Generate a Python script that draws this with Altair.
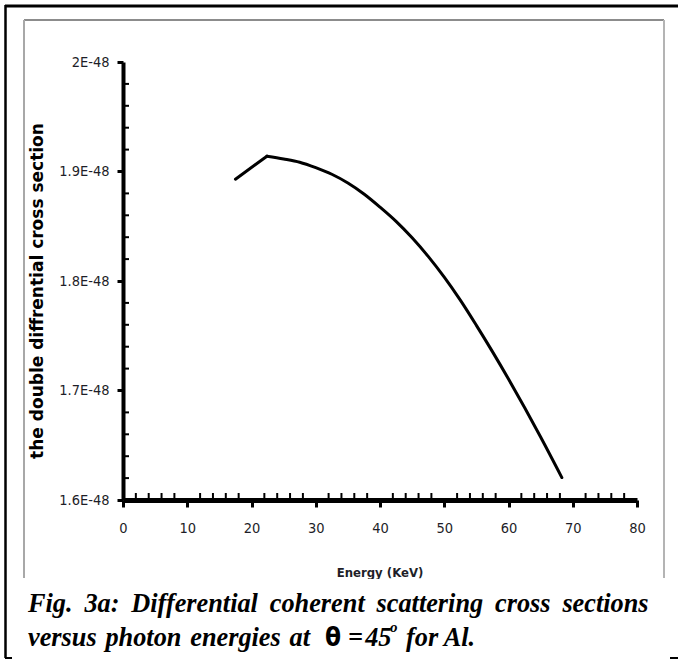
import altair as alt
import pandas as pd

# ---- data ----
energy = [17.5, 22.4, 25, 27.5, 30, 32.5, 35, 37.5, 40, 42.5, 45, 47.5,
          50, 52.5, 55, 57.5, 60, 62.5, 65, 68.3]
sigma = [1.893e-48, 1.914e-48, 1.9115e-48, 1.9085e-48, 1.9035e-48, 1.8975e-48,
         1.8895e-48, 1.8795e-48, 1.8675e-48, 1.8545e-48, 1.8395e-48, 1.8225e-48,
         1.8035e-48, 1.7825e-48, 1.7595e-48, 1.7355e-48, 1.7105e-48, 1.6845e-48,
         1.6575e-48, 1.6205e-48]
segment = ["rise", "rise"] + ["fall"] * 18

x_major = [0, 10, 20, 30, 40, 50, 60, 70, 80]
x_minor = [2, 4, 6, 8, 12, 14, 16, 18, 22, 24, 26, 28, 32, 34, 36, 38,
           42, 44, 46, 48, 52, 54, 56, 58, 62, 64, 66, 68, 72, 74, 76, 78]
y_major = [1.6e-48, 1.7e-48, 1.8e-48, 1.9e-48, 2.0e-48]
y_minor = [1.62e-48, 1.64e-48, 1.66e-48, 1.68e-48, 1.72e-48, 1.74e-48,
           1.76e-48, 1.78e-48, 1.82e-48, 1.84e-48, 1.86e-48, 1.88e-48,
           1.92e-48, 1.94e-48, 1.96e-48, 1.98e-48]

x_title = "Energy (KeV)"
y_title = "the double diffrential cross section"
G = " \u2009"  # slightly widened word gap (justified caption line)
caption1 = G.join(["Fig.", "3a:", "Differential", "coherent", "scattering",
                   "cross", "sections"])
caption2a = " \u200a".join(["versus", "photon", "energies", "at"])
caption2_theta = "\u03b8"
caption2_eq = "=\u200a45"
caption2_sup = "o"
caption2_end = "for Al."

W, H = 514, 438
SANS = "DejaVu Sans Condensed, Liberation Sans, sans-serif"

df = pd.DataFrame({"energy": energy, "sigma": sigma, "segment": segment})
one = pd.DataFrame({"a": [0]})

xscale = alt.Scale(domain=[0, 80], nice=False, zero=False)
yscale = alt.Scale(domain=[1.6e-48, 2.0e-48], nice=False, zero=False)

xaxis = alt.Axis(values=x_major, title=None, grid=False, domainColor="black",
                 domainWidth=5, tickColor="black", tickWidth=3, tickSize=7,
                 labelFont=SANS, labelFontSize=14.5,
                 labelColor="#1e1e28", labelPadding=14, labelFlush=False)
yaxis = alt.Axis(values=y_major, title=None, grid=False, domainColor="black",
                 domainWidth=4, tickColor="black", tickWidth=3, tickSize=6,
                 labelFont=SANS, labelFontSize=14.5,
                 labelColor="#1e1e28", labelPadding=8,
                 labelExpr="format(datum.value*1e48, '.2~g') + 'E-48'")

X = alt.X("energy:Q", scale=xscale, axis=xaxis)
Y = alt.Y("sigma:Q", scale=yscale, axis=yaxis)


def rule(x1, x2, y1, y2, color, w):
    return alt.Chart(one).mark_rule(color=color, strokeWidth=w).encode(
        x=alt.value(x1), x2=alt.value(x2), y=alt.value(y1), y2=alt.value(y2))


def text(s, x, y, **kw):
    return alt.Chart(one).mark_text(text=s, **kw).encode(
        x=alt.value(x), y=alt.value(y))


ox, oy = 123, 62  # view origin in page pixels

# frames
gray_top = rule(24 - ox, 664 - ox, 20 - oy, 20 - oy, "#8c8c8c", 2)
gray_left = rule(24 - ox, 24 - ox, 20 - oy, 578 - oy, "#a8a8a8", 2)
gray_right = rule(664 - ox, 664 - ox, 20 - oy, 578 - oy, "#b4b4b4", 2)
black_top = rule(5 - ox, 678 - ox, 6 - oy, 6 - oy, "black", 3)
black_left = rule(5.5 - ox, 5.5 - ox, 5 - oy, 658 - oy, "black", 2.5)
black_bl = rule(5 - ox, 12 - ox, 658 - oy, 658 - oy, "black", 2)
black_br = rule(670 - ox, 678 - ox, 658 - oy, 658 - oy, "black", 2)

xtitle = text(x_title, 380 - ox, 577 - oy, font=SANS,
              fontSize=13, fontWeight="bold", color="#1e1e28",
              align="center", baseline="alphabetic")
ytitle = text(y_title, 38 - ox, 291 - oy, font="DejaVu Sans", fontSize=17,
              fontWeight="bold", color="black", angle=270, align="center",
              baseline="middle")

white_box = alt.Chart(one).mark_rect(color="white").encode(
    x=alt.value(9 - ox), x2=alt.value(669 - ox),
    y=alt.value(579 - oy), y2=alt.value(656 - oy))

cap_kw = dict(font="Liberation Serif", fontSize=26.3, fontWeight="bold",
              fontStyle="italic", color="black", align="left",
              baseline="alphabetic")
cap1 = text(caption1, 28 - ox, 612 - oy, **cap_kw)
cap2a = text(caption2a, 28 - ox, 646 - oy, **cap_kw)
cap2t = text(caption2_theta, 333 - ox, 646 - oy, font=SANS,
             fontSize=26, fontWeight="bold", color="black", align="center",
             baseline="alphabetic")
cap2e = text(caption2_eq, 348 - ox, 646 - oy, **cap_kw)
cap2s = text(caption2_sup, 390 - ox, 632 - oy, font="Liberation Serif",
             fontSize=15, fontWeight="bold", fontStyle="italic", color="black",
             align="left", baseline="alphabetic")
cap2f = text(caption2_end, 406 - ox, 646 - oy, **cap_kw)

line_rise = alt.Chart(df).transform_filter(
    "datum.segment == 'rise'").mark_line(
    color="black", strokeWidth=3, strokeCap="round").encode(x=X, y=Y)
line_fall = alt.Chart(df).transform_filter(
    "datum.energy >= 22.4").mark_line(
    color="black", strokeWidth=3, strokeCap="round",
    interpolate="monotone").encode(x=X, y=Y)

xminor = alt.Chart(pd.DataFrame({"energy": x_minor})).mark_rule(
    color="black", strokeWidth=2).encode(
    x=X, y=alt.value(H), y2=alt.value(H - 7))
yminor = alt.Chart(pd.DataFrame({"sigma": y_minor})).mark_rule(
    color="black", strokeWidth=2).encode(
    y=Y, x=alt.value(0), x2=alt.value(6))

chart = alt.layer(
    gray_top, gray_left, gray_right, black_top, black_left, black_bl, black_br,
    line_rise, line_fall, xminor, yminor, xtitle, ytitle, white_box,
    cap1, cap2a, cap2t, cap2e, cap2s, cap2f,
).properties(
    width=W, height=H,
    autosize=alt.AutoSizeParams(type="none"),
    padding={"left": ox, "top": oy, "right": 678 - ox - W, "bottom": 661 - oy - H},
    background="white",
).configure_view(stroke=None)

chart.save("out.html", embed_options={"renderer": "svg", "actions": False})
